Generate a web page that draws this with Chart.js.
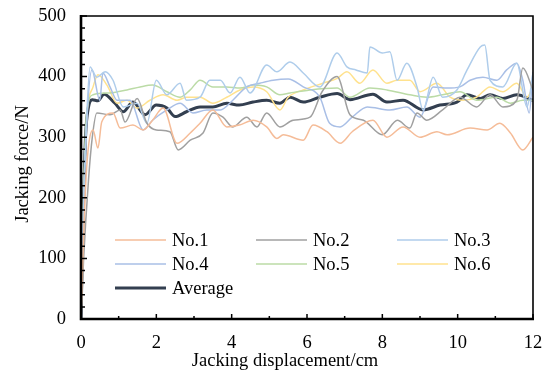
<!DOCTYPE html>
<html>
<head>
<meta charset="utf-8">
<script src="https://cdn.jsdelivr.net/npm/chart.js@4.4.1/dist/chart.umd.min.js"></script>
<style>
  html, body { margin: 0; padding: 0; background: #fff; }
  #box { width: 547px; height: 372px; }
</style>
</head>
<body>
<div id="box"><canvas id="forceChart" width="547" height="372"></canvas></div>
<script>
// jacking displacement (cm) / jacking force (N) readings per test
const no1X = [0, 0.06, 0.15, 0.32, 0.45, 0.55, 0.85, 1.04, 1.38, 1.65, 1.9, 2.18, 2.55, 2.9, 3.16, 3.5, 3.87, 4.2, 4.57, 4.93, 5.2, 5.37, 5.9, 6.16, 6.53, 6.88, 7.2, 7.75, 8.12, 8.55, 9.0, 9.45, 9.72, 10.33, 10.78, 11.12, 11.4, 11.73, 12];
const no1Y = [0, 120, 250, 312, 282, 325, 340, 315, 320, 312, 328, 348, 290, 307, 323, 345, 317, 320, 328, 317, 298, 304, 295, 320, 309, 290, 309, 328, 300, 317, 300, 309, 304, 315, 312, 323, 307, 279, 300];

const no2X = [0, 0.07, 0.2, 0.3, 0.42, 0.77, 1.04, 1.17, 1.49, 1.75, 2.0, 2.36, 2.58, 2.9, 3.24, 3.5, 3.77, 4.03, 4.4, 4.67, 4.93, 5.28, 5.63, 6.08, 6.4, 6.8, 7.14, 7.5, 8.0, 8.4, 8.73, 8.92, 9.18, 9.6, 10.06, 10.5, 10.86, 11.2, 11.57, 11.73, 12];
const no2Y = [0, 100, 230, 300, 340, 337, 345, 325, 364, 323, 312, 309, 279, 295, 307, 340, 333, 317, 333, 317, 340, 317, 328, 333, 375, 400, 337, 328, 304, 328, 315, 340, 328, 345, 366, 350, 370, 350, 361, 414, 378];

const no3X = [0, 0.05, 0.15, 0.24, 0.42, 0.64, 0.85, 1.12, 1.49, 1.75, 2.0, 2.28, 2.63, 2.8, 3.16, 3.42, 3.7, 3.96, 4.22, 4.49, 4.93, 5.2, 5.55, 5.9, 6.34, 6.8, 7.06, 7.3, 7.6, 7.67, 8.0, 8.2, 8.39, 8.65, 8.92, 9.08, 9.35, 9.6, 9.98, 10.25, 10.6, 10.72, 10.86, 11.2, 11.57, 11.84, 12];
const no3Y = [0, 150, 330, 416, 399, 408, 394, 350, 356, 323, 394, 370, 389, 361, 366, 394, 394, 373, 399, 373, 419, 408, 424, 406, 383, 439, 416, 411, 406, 449, 439, 441, 394, 422, 383, 345, 399, 366, 378, 411, 449, 452, 394, 383, 422, 350, 406];

const no4X = [0, 0.05, 0.15, 0.29, 0.5, 0.58, 0.77, 0.96, 1.3, 1.65, 1.9, 2.28, 2.63, 2.97, 3.34, 3.7, 4.03, 4.4, 4.75, 5.1, 5.5, 5.9, 6.34, 6.6, 6.88, 7.2, 7.6, 8.2, 8.65, 9.0, 9.35, 9.72, 10.06, 10.33, 10.67, 11.04, 11.3, 11.57, 11.73, 11.9, 12];
const no4Y = [0, 140, 320, 411, 361, 406, 383, 361, 361, 312, 328, 345, 356, 340, 345, 345, 361, 383, 389, 394, 396, 383, 366, 323, 317, 333, 350, 345, 350, 333, 383, 381, 383, 394, 399, 394, 411, 422, 394, 340, 408];

const no5X = [0, 0.05, 0.15, 0.32, 0.77, 1.22, 1.57, 1.9, 2.28, 2.63, 2.9, 3.16, 3.5, 3.87, 4.22, 4.57, 4.93, 5.28, 5.55, 6.08, 6.8, 7.14, 7.67, 8.12, 8.73, 9.18, 9.6, 10.06, 10.5, 11.04, 11.4, 11.73, 12];
const no5Y = [0, 160, 340, 370, 373, 378, 383, 386, 375, 366, 378, 394, 383, 383, 381, 386, 383, 370, 373, 378, 381, 366, 381, 378, 370, 366, 370, 375, 361, 366, 356, 361, 361];

const no6X = [0, 0.05, 0.15, 0.32, 0.45, 0.69, 0.96, 1.22, 1.49, 1.83, 2.18, 2.55, 2.8, 3.16, 3.5, 3.87, 4.22, 4.57, 4.93, 5.28, 5.5, 5.9, 6.42, 6.8, 7.06, 7.4, 7.75, 8.12, 8.39, 8.73, 9.0, 9.45, 9.8, 10.14, 10.5, 10.86, 11.2, 11.57, 11.84, 12];
const no6Y = [0, 150, 330, 383, 403, 386, 356, 361, 348, 361, 370, 361, 366, 366, 356, 366, 378, 383, 375, 345, 366, 378, 389, 397, 408, 389, 411, 389, 394, 394, 375, 389, 366, 361, 366, 383, 375, 389, 366, 383];

const avgX = [0, 0.05, 0.12, 0.2, 0.3, 0.45, 0.61, 0.9, 1.12, 1.38, 1.7, 2.0, 2.28, 2.5, 2.8, 3.16, 3.5, 3.87, 4.2, 4.57, 4.93, 5.28, 5.55, 5.9, 6.34, 6.8, 7.14, 7.75, 8.12, 8.55, 9.08, 9.53, 9.98, 10.25, 10.6, 10.86, 11.2, 11.57, 12];
const avgY = [0, 150, 300, 350, 362, 360, 371, 356, 342, 358, 337, 353, 348, 334, 342, 350, 350, 356, 353, 358, 361, 356, 366, 358, 366, 372, 362, 371, 358, 361, 345, 353, 358, 370, 364, 370, 364, 370, 361];

const seriesNames = ['No.1', 'No.2', 'No.3', 'No.4', 'No.5', 'No.6', 'Average'];
const seriesColors = ['#F5BC98', '#A0A0A0', '#AFCDEB', '#A9BFE6', '#BBDBA6', '#FFE28E', '#333F50'];
const xTicks = [0, 2, 4, 6, 8, 10, 12];
const yTicks = [0, 100, 200, 300, 400, 500];

const FONT = 'Liberation Serif, "Times New Roman", serif';
const FONT_SIZE = 18.5;

function toPoints(xs, ys) {
  return xs.map((x, i) => ({ x: x, y: ys[i] }));
}

const allX = [no1X, no2X, no3X, no4X, no5X, no6X, avgX];
const allY = [no1Y, no2Y, no3Y, no4Y, no5Y, no6Y, avgY];

// average goes last so it sits on top of the others
const datasets = seriesNames.map((name, i) => ({
  label: name,
  data: toPoints(allX[i], allY[i]),
  borderColor: seriesColors[i],
  borderWidth: name === 'Average' ? 3 : 1.5,
  pointRadius: 0,
  cubicInterpolationMode: 'monotone',
  fill: false
}));

// frame, inward ticks, axis titles and legend box inside the plot
const framePlugin = {
  id: 'frame',
  afterDraw(chart) {
    const ctx = chart.ctx;
    const a = chart.chartArea;
    const xs = chart.scales.x, ys = chart.scales.y;
    ctx.save();
    ctx.strokeStyle = '#000';
    ctx.lineCap = 'butt';

    // top and right border
    ctx.lineWidth = 1.6;
    ctx.beginPath();
    ctx.moveTo(a.left, a.top);
    ctx.lineTo(a.right, a.top);
    ctx.lineTo(a.right, a.bottom);
    ctx.stroke();

    // left and bottom axis lines
    ctx.lineWidth = 2.6;
    ctx.beginPath();
    ctx.moveTo(a.left, a.top - 1);
    ctx.lineTo(a.left, a.bottom);
    ctx.lineTo(a.right + 1, a.bottom);
    ctx.stroke();

    // ticks pointing into the plot
    ctx.lineWidth = 1.5;
    ctx.beginPath();
    for (let v = 0; v <= 12; v++) {
      const px = xs.getPixelForValue(v);
      const len = v % 2 === 0 ? 5 : 3;
      ctx.moveTo(px, a.bottom);
      ctx.lineTo(px, a.bottom - len);
    }
    for (let v = 0; v <= 500; v += 20) {
      const py = ys.getPixelForValue(v);
      const len = v % 100 === 0 ? 6 : 4;
      ctx.moveTo(a.left, py);
      ctx.lineTo(a.left + len, py);
    }
    ctx.stroke();

    // axis titles
    ctx.fillStyle = '#000';
    ctx.font = FONT_SIZE + 'px ' + FONT;
    ctx.textAlign = 'center';
    ctx.textBaseline = 'middle';
    ctx.fillText('Jacking displacement/cm', 285, 361);
    ctx.save();
    ctx.translate(23, 164);
    ctx.rotate(-Math.PI / 2);
    ctx.fillText('Jacking force/N', 0, 0);
    ctx.restore();

    // legend: three columns, three rows
    ctx.textAlign = 'left';
    const colX = [115, 256, 397];
    const rowY = [240, 264, 288];
    chart.data.datasets.forEach((ds, i) => {
      const lx = colX[i % 3];
      const ly = rowY[Math.floor(i / 3)];
      ctx.strokeStyle = ds.borderColor;
      ctx.lineWidth = ds.borderWidth;
      ctx.beginPath();
      ctx.moveTo(lx, ly);
      ctx.lineTo(lx + 51, ly);
      ctx.stroke();
      ctx.fillText(ds.label, lx + 57, ly + 1);
    });
    ctx.restore();
  }
};

new Chart(document.getElementById('forceChart'), {
  type: 'line',
  data: { datasets: datasets },
  options: {
    responsive: false,
    animation: false,
    devicePixelRatio: 1,
    layout: { padding: { top: 16, right: 14, left: 0, bottom: 0 } },
    plugins: {
      legend: { display: false },
      tooltip: { enabled: false }
    },
    scales: {
      x: {
        type: 'linear',
        min: 0,
        max: 12,
        afterFit: s => {
          s.height = 53;
          s.paddingLeft = 0;
          s.paddingRight = 0;
        },
        afterBuildTicks: s => { s.ticks = xTicks.map(v => ({ value: v })); },
        ticks: { color: '#000', font: { family: FONT, size: FONT_SIZE }, padding: 13, maxRotation: 0 },
        grid: { display: false, drawTicks: false },
        border: { display: false }
      },
      y: {
        min: 0,
        max: 500,
        afterFit: s => {
          s.width = 81;
          s.paddingTop = 0;
          s.paddingBottom = 0;
        },
        afterBuildTicks: s => { s.ticks = yTicks.map(v => ({ value: v })); },
        ticks: { color: '#000', font: { family: FONT, size: FONT_SIZE }, padding: 15 },
        grid: { display: false, drawTicks: false },
        border: { display: false }
      }
    }
  },
  plugins: [framePlugin]
});
</script>
</body>
</html>
